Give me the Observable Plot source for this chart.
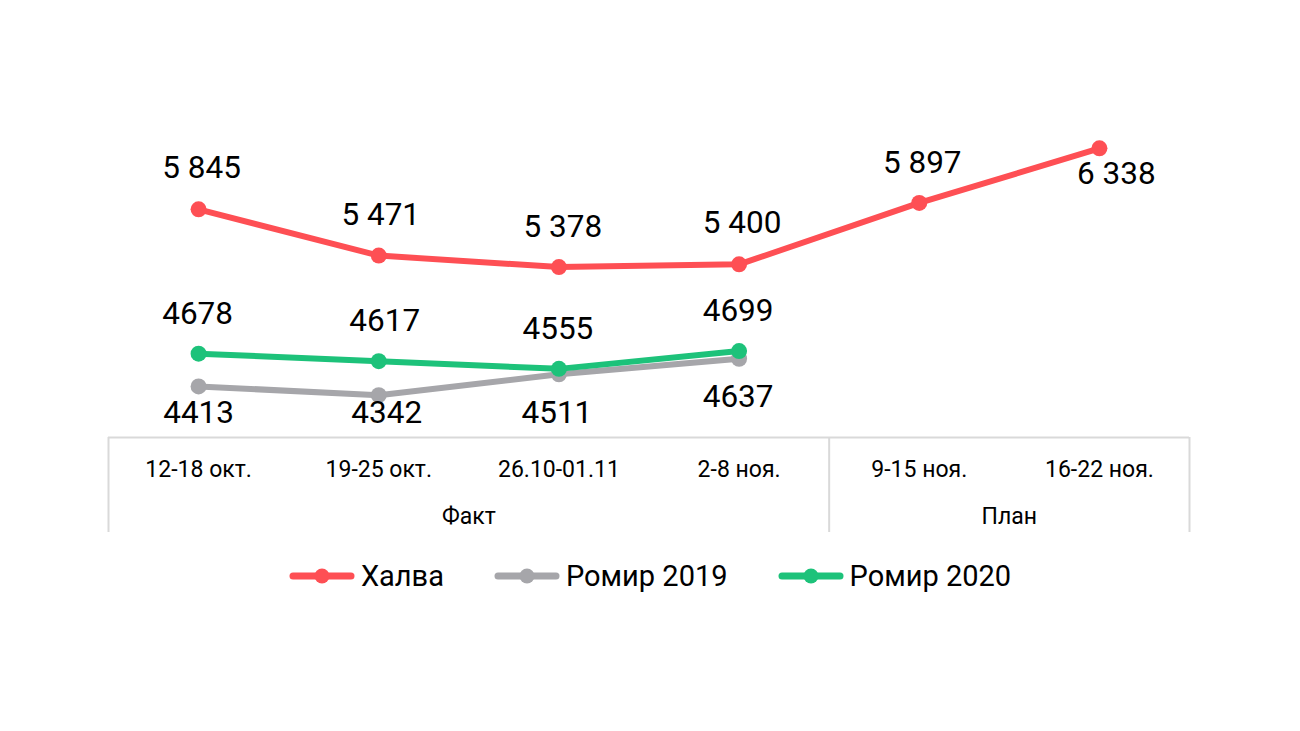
<!DOCTYPE html>
<html>
<head>
<meta charset="utf-8">
<script src="https://cdn.jsdelivr.net/npm/d3@7"></script>
<script src="https://cdn.jsdelivr.net/npm/@observablehq/plot@0.6"></script>
<style>
  html, body { margin: 0; padding: 0; background: #fff; }
  body { width: 1300px; height: 731px; font-family: Roboto, "Noto Sans", sans-serif; }
  #chart svg { display: block; }
  #legend { display: flex; justify-content: center; align-items: center; height: 62px; gap: 50px; font-family: Roboto, sans-serif; font-size: 29px; color: #000; }
  .item { display: flex; align-items: center; gap: 6px; }
  .item svg { display: block; }
</style>
</head>
<body>
<div id="chart"></div>
<div id="legend"></div>
<script>
// ---- data ----
const categories = ["12-18 окт.", "19-25 окт.", "26.10-01.11", "2-8 ноя.", "9-15 ноя.", "16-22 ноя."];
const groups = ["Факт", "План"];
const groupStart = [0, 4];
const groupEnd = [3, 5];
const halva = [5845, 5471, 5378, 5400, 5897, 6338];
const romir2019 = [4413, 4342, 4511, 4637];
const romir2020 = [4678, 4617, 4555, 4699];
const seriesNames = ["Халва", "Ромир 2019", "Ромир 2020"];

// ---- layout / style (not data) ----
const colors = {"Халва": "#fe4f54", "Ромир 2019": "#a6a6aa", "Ромир 2020": "#1dc27a"};
const labelDy = {
  "Халва": [-41, -41, -40, -41, -40, 26],
  "Ромир 2019": [26, 18, 39, 38],
  "Ромир 2020": [-40, -40, -40, -40]
};
const labelDx = {
  "Халва": [3, 2, 4, 3, 3, 17],
  "Ромир 2019": [0, 8, -2, -1],
  "Ромир 2020": [-1, 6, -1, -1]
};

const spaceFmt = v => d3.format(",")(v).replace(/,/g, " ");
const plainFmt = v => String(v);

const series = [
  {name: "Ромир 2019", values: romir2019, fmt: plainFmt},
  {name: "Ромир 2020", values: romir2020, fmt: plainFmt},
  {name: "Халва", values: halva, fmt: spaceFmt}
];

const rows = series.flatMap(s => s.values.map((v, i) => ({
  series: s.name, i, value: v, label: s.fmt(v),
  dy: labelDy[s.name][i], dx: labelDx[s.name][i]
})));

const bounds = [-0.5, groupEnd[0] + 0.5, categories.length - 0.5];
const groupRows = groups.map((g, k) => ({name: g, center: (groupStart[k] + groupEnd[k]) / 2}));

const H = 545, MT = 66, MB = H - 437;
const boxDepth = 95;
const gridColor = "#d9d9d9";

const marks = [
  Plot.ruleY([4000], {stroke: gridColor, strokeWidth: 2}),
  Plot.ruleX(bounds, {x: d => d, stroke: gridColor, strokeWidth: 2, insetTop: H - MT - MB, insetBottom: -boxDepth}),
  Plot.text(categories, {x: (d, i) => i, y: () => 4000, text: d => d, dy: 32, fontSize: 23, fill: "#000"}),
  Plot.text(groupRows, {x: "center", y: () => 4000, text: "name", dy: 79, fontSize: 23, fill: "#000"})
];

for (const s of series) {
  const data = rows.filter(r => r.series === s.name);
  marks.push(Plot.line(data, {x: "i", y: "value", stroke: colors[s.name], strokeWidth: 6, strokeLinejoin: "round"}));
  marks.push(Plot.dot(data, {x: "i", y: "value", r: 8, fill: colors[s.name], stroke: "none"}));
}
for (const r of rows) {
  marks.push(Plot.text([r], {x: "i", y: "value", text: "label", dy: r.dy, dx: r.dx, fontSize: 31.5, fill: "#000"}));
}

const chart = Plot.plot({
  width: 1300,
  height: H,
  marginTop: MT,
  marginBottom: MB,
  marginLeft: 108,
  marginRight: 111,
  style: {fontFamily: "Roboto, sans-serif", background: "#fff"},
  x: {type: "linear", domain: [-0.5, categories.length - 0.5], axis: null},
  y: {domain: [4000, 7000], axis: null},
  marks
});
document.getElementById("chart").appendChild(chart);

// legend
const legend = document.getElementById("legend");
for (const name of seriesNames) {
  const item = document.createElement("div");
  item.className = "item";
  const c = colors[name];
  item.innerHTML = `<svg width="66" height="20"><line x1="4" y1="10" x2="62" y2="10" stroke="${c}" stroke-width="7" stroke-linecap="round"/><circle cx="33" cy="10" r="7.5" fill="${c}"/></svg><span>${name}</span>`;
  legend.appendChild(item);
}
</script>
</body>
</html>
